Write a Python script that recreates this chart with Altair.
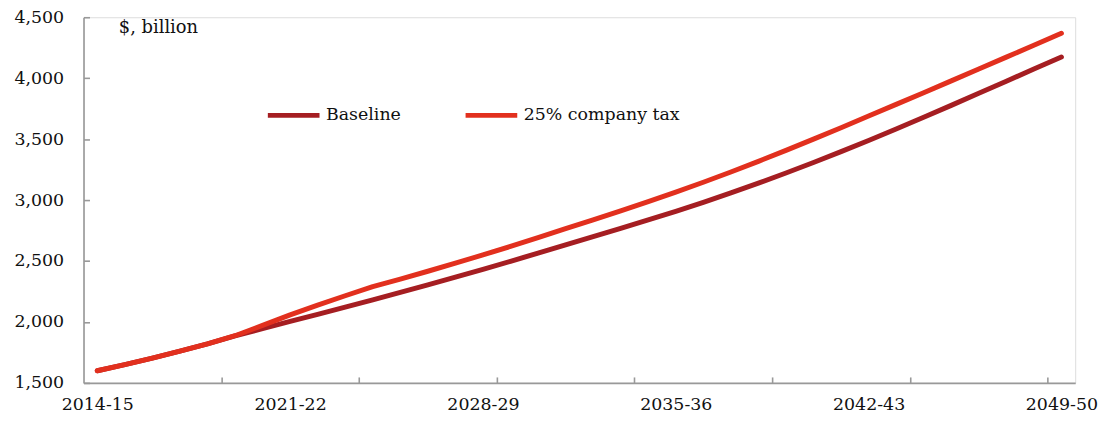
import altair as alt
import pandas as pd

years = ["2014-15", "2015-16", "2016-17", "2017-18", "2018-19", "2019-20",
         "2020-21", "2021-22", "2022-23", "2023-24", "2024-25", "2025-26",
         "2026-27", "2027-28", "2028-29", "2029-30", "2030-31", "2031-32",
         "2032-33", "2033-34", "2034-35", "2035-36", "2036-37", "2037-38",
         "2038-39", "2039-40", "2040-41", "2041-42", "2042-43", "2043-44",
         "2044-45", "2045-46", "2046-47", "2047-48", "2048-49", "2049-50"]

baseline = [1600, 1650, 1703, 1760, 1820, 1885, 1945, 2005, 2063, 2122,
            2182, 2243, 2305, 2368, 2432, 2498, 2565, 2633, 2700, 2768,
            2837, 2908, 2982, 3059, 3139, 3222, 3308, 3397, 3489, 3583,
            3679, 3777, 3876, 3975, 4075, 4174]

company_tax = [1600, 1650, 1703, 1760, 1820, 1887, 1972, 2058, 2138, 2215,
               2290, 2352, 2416, 2482, 2550, 2620, 2692, 2765, 2838, 2912,
               2988, 3066, 3146, 3230, 3318, 3408, 3500, 3594, 3690, 3785,
               3881, 3978, 4075, 4173, 4270, 4368]

series_names = ["Baseline", "25% company tax"]
series_colors = ["#A51E22", "#E2301E"]

label_positions = [0, 7, 14, 21, 28, 35]
tick_positions = [4.5, 9.5, 14.5, 19.5, 24.5, 29.5, 34.5]
y_ticks = [1500, 2000, 2500, 3000, 3500, 4000, 4500]

rows = []
for i, yr in enumerate(years):
    rows.append({"idx": i, "year": yr, "series": series_names[0], "value": baseline[i]})
    rows.append({"idx": i, "year": yr, "series": series_names[1], "value": company_tax[i]})
df = pd.DataFrame(rows)

FONT = "DejaVu Serif"
AXIS_GREY = "#999999"

label_array = "[" + ",".join("'" + y + "'" for y in years) + "]"

x_scale = alt.Scale(domain=[-0.5, 35.5], nice=False, zero=False)
y_scale = alt.Scale(domain=[1500, 4500], nice=False, zero=False)

x_main = alt.Axis(values=label_positions, labelExpr=label_array + "[datum.value]",
                  ticks=False, grid=False, domain=True, domainColor=AXIS_GREY,
                  domainWidth=1.6, labelPadding=13, labelOverlap=False,
                  labelFont=FONT, labelFontSize=17.5, labelColor="#111111",
                  title=None, orient="bottom")
y_main = alt.Axis(values=y_ticks, format=",.0f", ticks=False, grid=False, domain=True,
                  domainColor=AXIS_GREY, domainWidth=1.6, labelPadding=20,
                  labelFont=FONT, labelFontSize=17.5, labelColor="#111111",
                  title="$, billion", titleAngle=0, titleX=35, titleY=15,
                  titleAlign="left", titleBaseline="alphabetic", titleFont=FONT,
                  titleFontSize=18, titleFontWeight="normal", titleColor="#111111",
                  orient="left")

x_tick_axis = alt.Axis(values=tick_positions, labels=False, domain=False, grid=False,
                       ticks=True, tickSize=6, tickColor=AXIS_GREY, tickWidth=1.6,
                       offset=-6, title=None, orient="bottom")
y_tick_axis = alt.Axis(values=y_ticks, labels=False, domain=False, grid=False,
                       ticks=True, tickSize=6, tickColor=AXIS_GREY, tickWidth=1.6,
                       offset=-6, title=None, orient="left")

lines = alt.Chart(df).mark_line(strokeWidth=5, strokeCap="round", strokeJoin="round").encode(
    x=alt.X("idx:Q", scale=x_scale, axis=x_main),
    y=alt.Y("value:Q", scale=y_scale, axis=y_main),
    color=alt.Color("series:N",
                    scale=alt.Scale(domain=series_names, range=series_colors),
                    sort=series_names,
                    legend=alt.Legend(orient="none", legendX=183, legendY=70,
                                      direction="horizontal", title=None,
                                      symbolType="stroke", symbolSize=2704,
                                      symbolStrokeWidth=5, labelFont=FONT,
                                      labelFontSize=17.5, labelColor="#111111",
                                      labelOffset=4, columnPadding=54,
                                      labelLimit=400)),
    order=alt.Order("idx:Q"),
)

ticks_layer = alt.Chart(df).mark_line(strokeOpacity=0).encode(
    x=alt.X("idx:Q", scale=x_scale, axis=x_tick_axis),
    y=alt.Y("value:Q", scale=y_scale, axis=y_tick_axis),
    detail="series:N",
)

chart = alt.layer(ticks_layer, lines).resolve_axis(
    x="independent", y="independent"
).properties(
    width=998, height=368,
    autosize=alt.AutoSizeParams(type="none"),
    padding={"left": 76, "top": 8, "right": 30, "bottom": 31},
).configure_view(stroke=None).configure(background="white")

chart.save("out.html", embed_options={"renderer": "svg", "actions": False})
